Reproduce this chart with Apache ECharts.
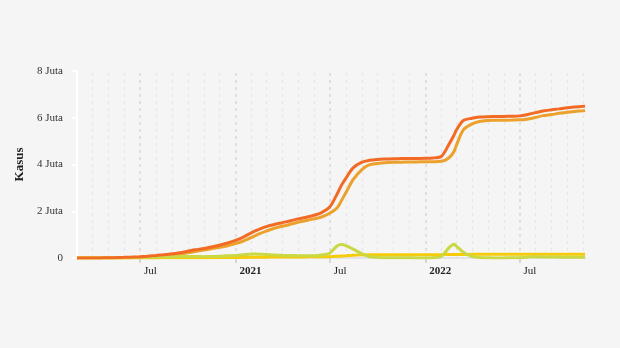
<!DOCTYPE html>
<html>
<head>
<meta charset="utf-8">
<script src="https://cdn.jsdelivr.net/npm/echarts@6/dist/echarts.min.js"></script>
<style>html,body{margin:0;padding:0;background:#f5f5f5;}#c{width:620px;height:348px;}</style>
</head>
<body>
<div id="c"></div>
<script>
// Dates (YYYY-MM-DD)
const dates = ['2020-03-02','2020-03-15','2020-04-01','2020-04-15','2020-05-01','2020-05-15','2020-06-01','2020-06-15','2020-07-01','2020-07-15','2020-08-01','2020-08-15','2020-09-01','2020-09-15','2020-10-01','2020-10-15','2020-11-01','2020-11-15','2020-12-01','2020-12-15','2021-01-01','2021-01-15','2021-02-01','2021-02-15','2021-03-01','2021-03-15','2021-04-01','2021-04-15','2021-05-01','2021-05-15','2021-06-01','2021-06-15','2021-07-01','2021-07-15','2021-07-24','2021-08-01','2021-08-15','2021-09-01','2021-09-15','2021-10-01','2021-10-15','2021-11-01','2021-11-15','2021-12-01','2021-12-15','2022-01-01','2022-01-15','2022-02-01','2022-02-15','2022-02-25','2022-03-01','2022-03-15','2022-04-01','2022-04-15','2022-05-01','2022-05-15','2022-06-01','2022-06-15','2022-07-01','2022-07-15','2022-08-01','2022-08-15','2022-09-01','2022-09-15','2022-10-01','2022-10-15','2022-11-01','2022-11-04'];
// values in thousands
const totalCases = [0.002,0.117,1.677,5.136,10.551,16.496,26.94,39.294,57.77,78.572,109.936,137.468,177.571,225.03,291.182,349.16,410.088,467.113,543.975,629.429,751.27,882.418,1089.308,1223.93,1341.314,1425.044,1511.712,1583.182,1672.88,1734.285,1826.527,1937.652,2178.272,2726.803,3127.826,3409.658,3854.354,4100.138,4178.164,4216.728,4233.014,4245.373,4251.945,4256.409,4260,4263,4275,4353,4850,5250,5450,5880,5980,6030,6047,6050,6056,6064,6080,6130,6220,6290,6340,6380,6430,6460,6490,6500];
const recovered = [0,0.008,0.103,0.446,1.591,3.803,7.637,15.123,25.595,37.636,67.919,91.321,128.057,161.065,218.487,273.661,337.801,392.293,454.879,516.656,617.936,717.179,883.49,1032.065,1151.915,1259.397,1356.451,1432.128,1526.979,1592.886,1674.479,1753.101,1914.847,2139.601,2470,2790,3356.077,3785,3982,4043,4078,4094,4100,4104,4111,4114,4119,4137,4280,4550,4780,5480,5740,5840,5880,5889,5894,5900,5910,5940,6010,6090,6140,6190,6240,6270,6300,6310];
const active = [0,0.104,1.417,4.221,8.16,11.6,17.7,22,29.3,37.2,37,40.1,41.9,55,61.9,63.3,58.8,59.6,72.1,93.7,111.2,140.4,175.2,158.3,153.1,126.9,114.3,108,100.5,93.7,101.3,130.8,205,516,574.1,526,380,180,56,31,12,9,8,7,5,4.5,12,71,430,586,520,250,63,25,8,5,5,7,13,33,52,43,42,34,33,30,30,31];
const deaths = [0,0.005,0.157,0.469,0.8,1.076,1.641,2.198,2.934,3.71,5.193,6.071,7.505,8.965,10.856,12.268,13.869,15.148,17.081,19.111,22.138,25.246,29.998,33.596,36.325,38.573,40.858,42.906,45.652,47.716,50.723,53.753,58.491,70.192,82,94.119,117.588,133.676,139.415,142.261,142.999,143.5,143.7,143.85,144,144.1,144.2,144.4,145.6,147.5,149,153,155.3,155.8,156.3,156.4,156.6,156.7,156.7,156.9,157.2,157.4,157.6,157.9,158.2,158.4,158.6,158.7];
const labelDates = ['2020-07-01','2021-01-01','2021-07-01','2022-01-01','2022-07-01'];
const yTicks = [0, 2000000, 4000000, 6000000, 8000000];

function ts(s){const p=s.split('-').map(Number);return Date.UTC(p[0],p[1]-1,p[2]);}
const T = dates.map(ts);
function pairs(arr){return arr.map((v,i)=>[T[i], v*1000]);}

// month gridlines
const gridMonths = [];
for (let y=2020;y<=2022;y++){for(let m=0;m<12;m++){const t=Date.UTC(y,m,1); if(t>ts('2020-03-02') && t<=ts('2022-11-04')) gridMonths.push({t:t, major:(m===0||m===6)});}}

const font = 'Liberation Serif';
const chart = echarts.init(document.getElementById('c'));
const common = {type:'line', smooth:0.3, showSymbol:false, symbol:'none', lineStyle:{width:3}};
chart.setOption({
  animation:false,
  backgroundColor:'#f5f5f5',
  grid:{left:77, right:35, top:71, bottom:90, containLabel:false},
  xAxis:{
    type:'value', min:ts('2020-03-02'), max:ts('2022-11-04'), scale:true,
    axisLine:{show:true, lineStyle:{color:'#e3e3e3', width:2}},
    axisTick:{show:true, customValues:labelDates.map(ts), length:5, lineStyle:{color:'#d6d6d6', width:2}},
    splitLine:{show:false},
    axisLabel:{
      customValues:labelDates.map(ts), align:'left', margin:8, padding:[0,0,0,4],
      fontFamily:font, fontSize:11, color:'#222',
      formatter:function(v){const d=new Date(v); return d.getUTCMonth()===0 ? '{b|'+d.getUTCFullYear()+'}' : 'Jul';},
      rich:{b:{fontWeight:'bold', fontFamily:font, fontSize:11, color:'#222'}}
    }
  },
  yAxis:{
    type:'value', min:0, max:8000000, interval:2000000,
    name:'Kasus', nameLocation:'middle', nameGap:41,
    nameTextStyle:{fontFamily:font, fontSize:13, fontWeight:'bold', color:'#222'},
    axisLine:{show:true, lineStyle:{color:'#ffffff', width:2}},
    axisTick:{show:true, length:5, lineStyle:{color:'#ffffff', width:2}},
    splitLine:{show:false},
    axisLabel:{fontFamily:font, fontSize:11, color:'#333', margin:14,
      formatter:function(v){return v===0?'0':(v/1000000)+' Juta';}}
  },
  series:[
    Object.assign({}, common, {name:'grid', data:[], z:0,
      markLine:{silent:true, z:0, symbol:'none', label:{show:false}, animation:false,
        data:gridMonths.map(g=>({xAxis:g.t, lineStyle:{type:[3,4], color:g.major?'#d8d8d8':'#e6e6e6', width:g.major?1.5:1.2}}))}}),
    Object.assign({}, common, {name:'Sembuh', data:pairs(recovered), lineStyle:{width:3, color:'#eba12b'}, itemStyle:{color:'#eba12b'}, z:3}),
    Object.assign({}, common, {name:'Positif', data:pairs(totalCases), lineStyle:{width:3, color:'#f26a24'}, itemStyle:{color:'#f26a24'}, z:4}),
    Object.assign({}, common, {name:'Meninggal', data:pairs(deaths), lineStyle:{width:3, color:'#f6cc0a'}, itemStyle:{color:'#f6cc0a'}, z:3}),
    Object.assign({}, common, {name:'Aktif', data:pairs(active), lineStyle:{width:3, color:'#c9d843'}, itemStyle:{color:'#c9d843'}, z:3})
  ]
});
</script>
</body>
</html>
